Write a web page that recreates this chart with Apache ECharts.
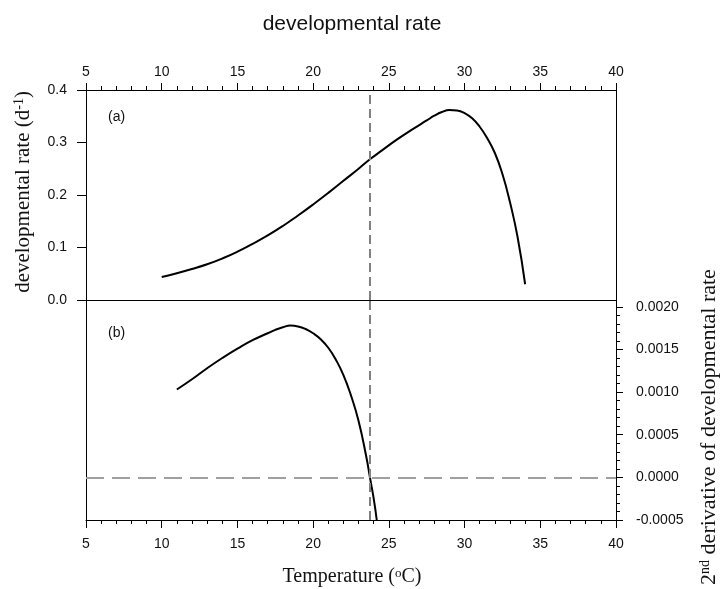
<!DOCTYPE html>
<html>
<head>
<meta charset="utf-8">
<script src="https://cdn.jsdelivr.net/npm/echarts@6/dist/echarts.min.js"></script>
<style>
  html, body { margin: 0; padding: 0; background: #fff; }
  #chart { width: 721px; height: 589px; }
</style>
</head>
<body>
<div id="chart"></div>
<script>
// Temperature (°C) and developmental rate (1/d) for panel (a)
const tempRate = [10, 11, 12, 13, 14, 15, 16, 17, 18, 19, 20, 21, 22, 23, 23.75, 24.5, 25.5, 26.5, 27.5, 28, 28.5, 29, 29.5, 30, 30.5, 31, 31.5, 32, 32.5, 33, 33.5, 34];
const rateValues = [0.044, 0.051, 0.059, 0.068, 0.079, 0.092, 0.107, 0.123, 0.141, 0.161, 0.182, 0.204, 0.227, 0.250, 0.268, 0.284, 0.305, 0.324, 0.342, 0.351, 0.358, 0.362, 0.361, 0.356, 0.346, 0.330, 0.308, 0.280, 0.240, 0.186, 0.120, 0.030];

// Temperature (°C) and second derivative of the rate for panel (b)
const tempDeriv = [11, 12, 13, 14, 15, 16, 17, 17.5, 18, 18.5, 19, 19.5, 20, 20.5, 21, 21.5, 22, 22.5, 23, 23.5, 23.75, 24, 24.2];
const derivValues = [0.00103, 0.00115, 0.00128, 0.00140, 0.00151, 0.00161, 0.00169, 0.00173, 0.00176, 0.00178, 0.00177, 0.00174, 0.00169, 0.00162, 0.00152, 0.00138, 0.00120, 0.00096, 0.00066, 0.00025, 0.0, -0.00025, -0.0005];

// Inflection temperature (second derivative = 0)
const inflectionTemp = [23.75];

// Tick values for the right-hand axis of panel (b)
const derivTicks = [-0.0005, 0, 0.0005, 0.0010, 0.0015, 0.0020];

const chart = echarts.init(document.getElementById('chart'), null, { renderer: 'canvas' });

const SANS = 'Liberation Sans, Arial, sans-serif';
const SERIF = 'Liberation Serif, Times New Roman, serif';
const AXIS_COLOR = '#000';
const LABEL = { color: '#111', fontFamily: SANS, fontSize: 14 };
const zip = (xs, ys) => xs.map((x, i) => [x, ys[i]]);

const plainLine = { show: true, onZero: false, lineStyle: { color: AXIS_COLOR, width: 1 } };
const noTicks = { show: false };

const option = {
  backgroundColor: '#fff',
  animation: false,
  grid: [
    { left: 86, right: 105, top: 90, height: 210 },
    { left: 86, right: 105, top: 300, height: 220 }
  ],
  xAxis: [
    {
      gridIndex: 0, type: 'value', position: 'top', min: 5, max: 40, interval: 5,
      axisLine: plainLine,
      axisTick: { show: true, inside: false, length: 7, lineStyle: { color: AXIS_COLOR } },
      minorTick: { show: true, splitNumber: 5, length: 4, lineStyle: { color: AXIS_COLOR } },
      axisLabel: Object.assign({ margin: 11 }, LABEL),
      splitLine: { show: false }
    },
    {
      gridIndex: 0, type: 'value', position: 'bottom', min: 5, max: 40,
      axisLine: plainLine, axisTick: noTicks, axisLabel: { show: false }, splitLine: { show: false }
    },
    {
      gridIndex: 1, type: 'value', position: 'bottom', min: 5, max: 40, interval: 5,
      axisLine: plainLine,
      axisTick: { show: true, inside: false, length: 8, lineStyle: { color: AXIS_COLOR } },
      minorTick: { show: true, splitNumber: 5, length: 4, lineStyle: { color: AXIS_COLOR } },
      axisLabel: Object.assign({ margin: 17 }, LABEL),
      splitLine: { show: false }
    }
  ],
  yAxis: [
    {
      gridIndex: 0, type: 'value', position: 'left', min: 0, max: 0.4, interval: 0.1,
      axisLine: plainLine,
      axisTick: { show: true, inside: false, length: 9, lineStyle: { color: AXIS_COLOR } },
      axisLabel: Object.assign({ margin: 19, formatter: v => v.toFixed(1) }, LABEL),
      splitLine: { show: false }
    },
    {
      gridIndex: 0, type: 'value', position: 'right', min: 0, max: 0.4,
      axisLine: plainLine, axisTick: noTicks, axisLabel: { show: false }, splitLine: { show: false }
    },
    {
      gridIndex: 1, type: 'value', position: 'left', min: 0, max: 1,
      axisLine: plainLine, axisTick: noTicks, axisLabel: { show: false }, splitLine: { show: false }
    },
    {
      gridIndex: 1, type: 'value', position: 'right', min: -0.0005, max: 0.00208, interval: 0.0005,
      axisLine: plainLine,
      axisTick: { show: true, inside: false, length: 7, customValues: derivTicks, lineStyle: { color: AXIS_COLOR } },
      minorTick: { show: true, splitNumber: 5, length: 4, lineStyle: { color: AXIS_COLOR } },
      axisLabel: Object.assign({ margin: 20, customValues: derivTicks, formatter: v => v.toFixed(4) }, LABEL),
      splitLine: { show: false }
    }
  ],
  series: [
    {
      name: 'developmental rate', type: 'line', xAxisIndex: 0, yAxisIndex: 0,
      data: zip(tempRate, rateValues), showSymbol: false, smooth: 0.5,
      lineStyle: { color: '#000', width: 2 },
      markLine: {
        silent: true, symbol: 'none', label: { show: false },
        lineStyle: { color: '#808080', width: 2, type: [9, 5] },
        data: inflectionTemp.map(t => ({ xAxis: t }))
      }
    },
    {
      name: '2nd derivative', type: 'line', xAxisIndex: 2, yAxisIndex: 3,
      data: zip(tempDeriv, derivValues), showSymbol: false, smooth: 0.5,
      lineStyle: { color: '#000', width: 2 },
      markLine: {
        silent: true, symbol: 'none', label: { show: false },
        data: [
          { yAxis: 0, lineStyle: { color: '#a0a0a0', width: 2, type: [18, 8] } },
          ...inflectionTemp.map(t => ({ xAxis: t, lineStyle: { color: '#808080', width: 2, type: [9, 5] } }))
        ]
      }
    }
  ],
  graphic: [
    {
      type: 'text', x: 352, y: 24,
      style: { text: 'developmental rate', fill: '#111', font: '21px ' + SANS, align: 'center', verticalAlign: 'middle' }
    },
    {
      type: 'text', x: 108, y: 117,
      style: { text: '(a)', fill: '#111', font: '14px ' + SANS, align: 'left', verticalAlign: 'middle' }
    },
    {
      type: 'text', x: 108, y: 333,
      style: { text: '(b)', fill: '#111', font: '14px ' + SANS, align: 'left', verticalAlign: 'middle' }
    },
    {
      type: 'text', x: 23, y: 192, rotation: Math.PI / 2,
      style: {
        text: 'developmental rate (d{sup|-1})',
        fill: '#111', font: '21px ' + SERIF, align: 'center', verticalAlign: 'middle',
        rich: { sup: { fontSize: 14, fontFamily: SERIF, verticalAlign: 'top', fill: '#111' } }
      }
    },
    {
      type: 'text', x: 709, y: 427, rotation: Math.PI / 2,
      style: {
        text: '2{sup|nd} derivative of developmental rate',
        fill: '#111', font: '22px ' + SERIF, align: 'center', verticalAlign: 'middle',
        rich: { sup: { fontSize: 14, fontFamily: SERIF, verticalAlign: 'top', fill: '#111' } }
      }
    },
    {
      type: 'text', x: 352, y: 577,
      style: {
        text: 'Temperature ({sup|o}C)',
        fill: '#111', font: '20px ' + SERIF, align: 'center', verticalAlign: 'middle',
        rich: { sup: { fontSize: 13, fontFamily: SERIF, verticalAlign: 'top', fill: '#111' } }
      }
    }
  ]
};

chart.setOption(option);
</script>
</body>
</html>
